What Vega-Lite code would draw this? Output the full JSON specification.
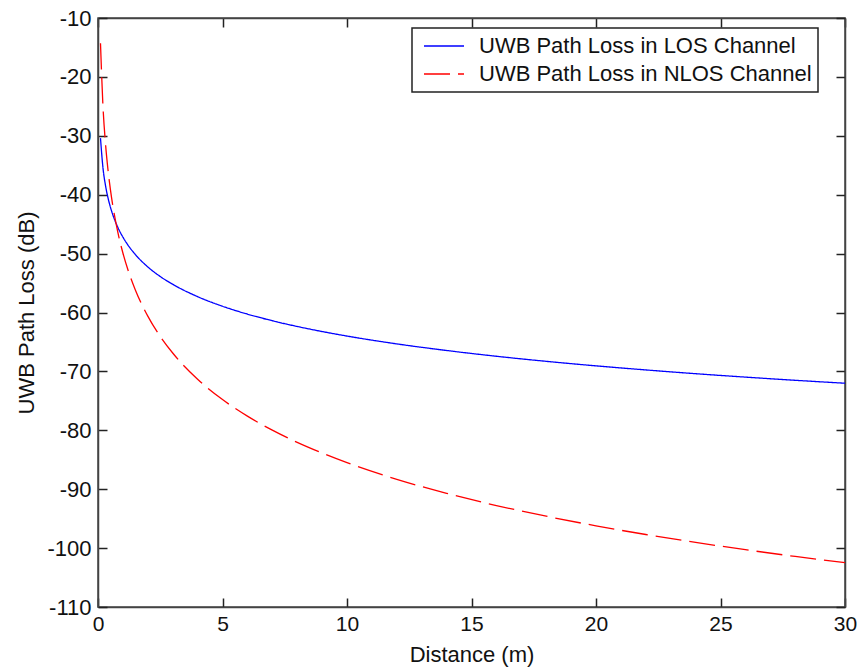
{
  "$schema": "https://vega.github.io/schema/vega-lite/v6.json",
  "width": 747,
  "height": 589,
  "autosize": {"type": "none"},
  "padding": {"left": 98, "top": 18, "right": 13, "bottom": 61},
  "background": "white",
  "config": {
    "font": "Liberation Sans",
    "view": {"stroke": "#444", "strokeWidth": 1.5},
    "axis": {
      "grid": false,
      "domainColor": "#444",
      "domainWidth": 1.5,
      "tickColor": "#222",
      "tickWidth": 1.5,
      "labelFont": "Liberation Sans",
      "labelFontSize": 21,
      "labelColor": "#111",
      "titleFont": "Liberation Sans",
      "titleFontSize": 22,
      "titleFontWeight": "normal",
      "titleColor": "#111"
    },
    "legend": {
      "orient": "none",
      "legendX": 314,
      "legendY": 10,
      "fillColor": "white",
      "strokeColor": "#222",
      "strokeWidth": 1.5,
      "padding": 6,
      "symbolType": "stroke",
      "symbolSize": 1600,
      "symbolStrokeWidth": 1.3,
      "symbolOffset": 5,
      "labelFont": "Liberation Sans",
      "labelFontSize": 22,
      "labelColor": "#111",
      "labelOffset": 14,
      "labelLimit": 400,
      "clipHeight": 24,
      "rowPadding": 4
    }
  },
  "data": {
    "values": [
      {"d": 0.1, "loss": -30.4, "series": "UWB Path Loss in LOS Channel"},
      {"d": 0.2, "loss": -35.46, "series": "UWB Path Loss in LOS Channel"},
      {"d": 0.3, "loss": -38.41, "series": "UWB Path Loss in LOS Channel"},
      {"d": 0.4, "loss": -40.51, "series": "UWB Path Loss in LOS Channel"},
      {"d": 0.5, "loss": -42.14, "series": "UWB Path Loss in LOS Channel"},
      {"d": 0.6, "loss": -43.47, "series": "UWB Path Loss in LOS Channel"},
      {"d": 0.8, "loss": -45.57, "series": "UWB Path Loss in LOS Channel"},
      {"d": 1, "loss": -47.2, "series": "UWB Path Loss in LOS Channel"},
      {"d": 1.25, "loss": -48.83, "series": "UWB Path Loss in LOS Channel"},
      {"d": 1.5, "loss": -50.16, "series": "UWB Path Loss in LOS Channel"},
      {"d": 2, "loss": -52.26, "series": "UWB Path Loss in LOS Channel"},
      {"d": 2.5, "loss": -53.89, "series": "UWB Path Loss in LOS Channel"},
      {"d": 3, "loss": -55.21, "series": "UWB Path Loss in LOS Channel"},
      {"d": 4, "loss": -57.31, "series": "UWB Path Loss in LOS Channel"},
      {"d": 5, "loss": -58.94, "series": "UWB Path Loss in LOS Channel"},
      {"d": 6, "loss": -60.27, "series": "UWB Path Loss in LOS Channel"},
      {"d": 7, "loss": -61.4, "series": "UWB Path Loss in LOS Channel"},
      {"d": 8, "loss": -62.37, "series": "UWB Path Loss in LOS Channel"},
      {"d": 9, "loss": -63.23, "series": "UWB Path Loss in LOS Channel"},
      {"d": 10, "loss": -64.0, "series": "UWB Path Loss in LOS Channel"},
      {"d": 12, "loss": -65.33, "series": "UWB Path Loss in LOS Channel"},
      {"d": 14, "loss": -66.45, "series": "UWB Path Loss in LOS Channel"},
      {"d": 16, "loss": -67.43, "series": "UWB Path Loss in LOS Channel"},
      {"d": 18, "loss": -68.29, "series": "UWB Path Loss in LOS Channel"},
      {"d": 20, "loss": -69.06, "series": "UWB Path Loss in LOS Channel"},
      {"d": 22, "loss": -69.75, "series": "UWB Path Loss in LOS Channel"},
      {"d": 24, "loss": -70.39, "series": "UWB Path Loss in LOS Channel"},
      {"d": 26, "loss": -70.97, "series": "UWB Path Loss in LOS Channel"},
      {"d": 28, "loss": -71.51, "series": "UWB Path Loss in LOS Channel"},
      {"d": 30, "loss": -72.01, "series": "UWB Path Loss in LOS Channel"},
      {"d": 0.1, "loss": -14.3, "series": "UWB Path Loss in NLOS Channel"},
      {"d": 0.2, "loss": -25.02, "series": "UWB Path Loss in NLOS Channel"},
      {"d": 0.3, "loss": -31.28, "series": "UWB Path Loss in NLOS Channel"},
      {"d": 0.4, "loss": -35.73, "series": "UWB Path Loss in NLOS Channel"},
      {"d": 0.5, "loss": -39.18, "series": "UWB Path Loss in NLOS Channel"},
      {"d": 0.6, "loss": -42.0, "series": "UWB Path Loss in NLOS Channel"},
      {"d": 0.8, "loss": -46.45, "series": "UWB Path Loss in NLOS Channel"},
      {"d": 1, "loss": -49.9, "series": "UWB Path Loss in NLOS Channel"},
      {"d": 1.25, "loss": -53.35, "series": "UWB Path Loss in NLOS Channel"},
      {"d": 1.5, "loss": -56.17, "series": "UWB Path Loss in NLOS Channel"},
      {"d": 2, "loss": -60.62, "series": "UWB Path Loss in NLOS Channel"},
      {"d": 2.5, "loss": -64.07, "series": "UWB Path Loss in NLOS Channel"},
      {"d": 3, "loss": -66.88, "series": "UWB Path Loss in NLOS Channel"},
      {"d": 4, "loss": -71.33, "series": "UWB Path Loss in NLOS Channel"},
      {"d": 5, "loss": -74.78, "series": "UWB Path Loss in NLOS Channel"},
      {"d": 6, "loss": -77.6, "series": "UWB Path Loss in NLOS Channel"},
      {"d": 7, "loss": -79.98, "series": "UWB Path Loss in NLOS Channel"},
      {"d": 8, "loss": -82.05, "series": "UWB Path Loss in NLOS Channel"},
      {"d": 9, "loss": -83.86, "series": "UWB Path Loss in NLOS Channel"},
      {"d": 10, "loss": -85.5, "series": "UWB Path Loss in NLOS Channel"},
      {"d": 12, "loss": -88.32, "series": "UWB Path Loss in NLOS Channel"},
      {"d": 14, "loss": -90.7, "series": "UWB Path Loss in NLOS Channel"},
      {"d": 16, "loss": -92.77, "series": "UWB Path Loss in NLOS Channel"},
      {"d": 18, "loss": -94.58, "series": "UWB Path Loss in NLOS Channel"},
      {"d": 20, "loss": -96.22, "series": "UWB Path Loss in NLOS Channel"},
      {"d": 22, "loss": -97.69, "series": "UWB Path Loss in NLOS Channel"},
      {"d": 24, "loss": -99.03, "series": "UWB Path Loss in NLOS Channel"},
      {"d": 26, "loss": -100.27, "series": "UWB Path Loss in NLOS Channel"},
      {"d": 28, "loss": -101.42, "series": "UWB Path Loss in NLOS Channel"},
      {"d": 30, "loss": -102.48, "series": "UWB Path Loss in NLOS Channel"}
    ]
  },
  "layer": [
    {
      "mark": {"type": "line", "strokeWidth": 1.3, "interpolate": "monotone"},
      "encoding": {
        "x": {
          "field": "d", "type": "quantitative",
          "scale": {"domain": [0, 30], "nice": false, "zero": false},
          "axis": {"title": "Distance (m)", "values": [0, 5, 10, 15, 20, 25, 30], "tickSize": -9, "labelPadding": 15, "titlePadding": 10, "labelFlush": false, "labelExpr": "'' + datum.value"}
        },
        "y": {
          "field": "loss", "type": "quantitative",
          "scale": {"domain": [-110, -10], "nice": false, "zero": false},
          "axis": {"title": "UWB Path Loss (dB)", "values": [-110, -100, -90, -80, -70, -60, -50, -40, -30, -20, -10], "tickSize": -9, "labelPadding": 16, "labelFontSize": 22, "titlePadding": 8, "labelFlush": false, "labelExpr": "'' + datum.value"}
        },
        "color": {
          "field": "series", "type": "nominal",
          "scale": {"domain": ["UWB Path Loss in LOS Channel", "UWB Path Loss in NLOS Channel"], "range": ["#0000ff", "#ff0000"]},
          "legend": {"title": null}
        },
        "strokeDash": {
          "field": "series", "type": "nominal",
          "scale": {"domain": ["UWB Path Loss in LOS Channel", "UWB Path Loss in NLOS Channel"], "range": [[1, 0], [26, 8]]},
          "legend": {"title": null}
        }
      }
    },
    {
      "mark": {"type": "line", "opacity": 0},
      "encoding": {
        "x": {
          "field": "d", "type": "quantitative",
          "scale": {"domain": [0, 30], "nice": false, "zero": false},
          "axis": {"orient": "top", "title": null, "labels": false, "values": [0, 5, 10, 15, 20, 25, 30], "tickSize": -9, "domain": true}
        },
        "y": {
          "field": "loss", "type": "quantitative",
          "scale": {"domain": [-110, -10], "nice": false, "zero": false},
          "axis": {"orient": "right", "title": null, "labels": false, "values": [-110, -100, -90, -80, -70, -60, -50, -40, -30, -20, -10], "tickSize": -9, "domain": true}
        },
        "detail": {"field": "series", "type": "nominal"}
      }
    }
  ],
  "resolve": {"axis": {"x": "independent", "y": "independent"}}
}
